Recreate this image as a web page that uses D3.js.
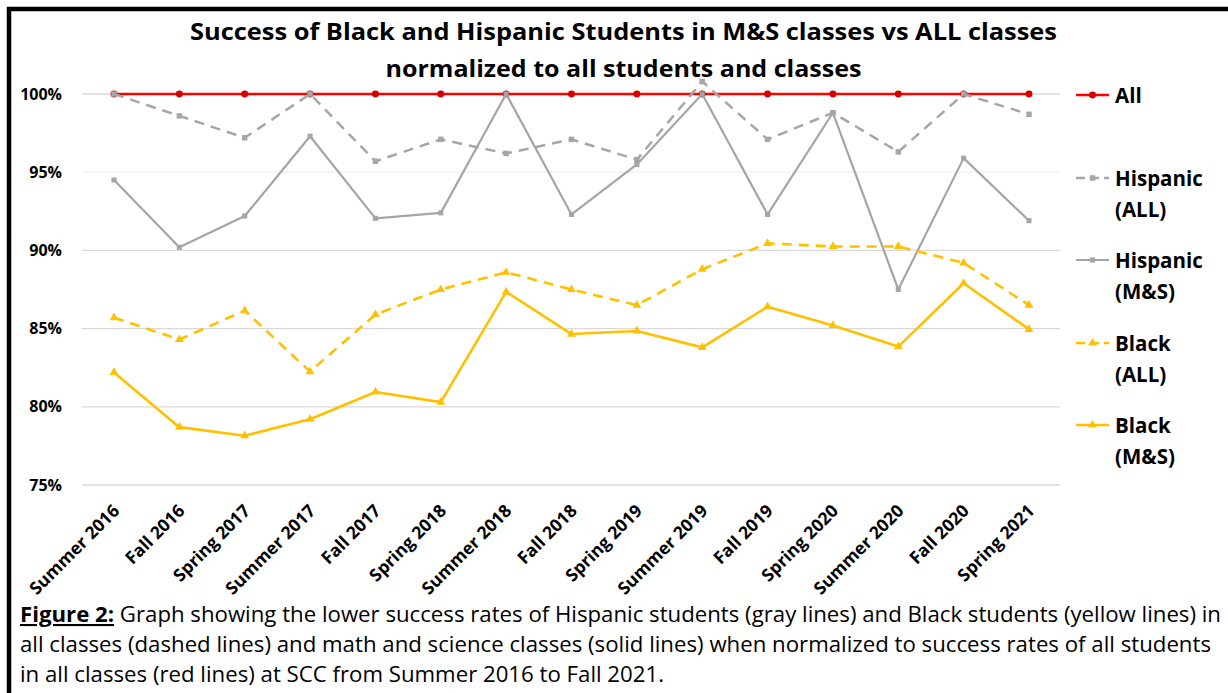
<!DOCTYPE html>
<html>
<head>
<meta charset="utf-8">
<script src="https://cdn.jsdelivr.net/npm/d3@7"></script>
<style>
  html, body { margin: 0; padding: 0; background: #fff; }
  svg { display: block; }
  text { font-family: "Open Sans", "DejaVu Sans", sans-serif; fill: #000; }
</style>
</head>
<body>
<svg id="chart" width="1228" height="693"></svg>
<script>
// Terms, from Summer 2016 to Spring 2021
const categories = ["Summer 2016", "Fall 2016", "Spring 2017", "Summer 2017", "Fall 2017",
  "Spring 2018", "Summer 2018", "Fall 2018", "Spring 2019", "Summer 2019",
  "Fall 2019", "Spring 2020", "Summer 2020", "Fall 2020", "Spring 2021"];

// Success rates normalized to all students in all classes (%)
const allStudents = [100, 100, 100, 100, 100, 100, 100, 100, 100, 100, 100, 100, 100, 100, 100];
const hispanicAll = [100, 98.6, 97.2, 100, 95.7, 97.1, 96.2, 97.1, 95.8, 100.8, 97.1, 98.8, 96.3, 100, 98.7];
const hispanicMS  = [94.5, 90.2, 92.2, 97.3, 92.05, 92.4, 100, 92.3, 95.5, 100, 92.3, 98.8, 87.5, 95.9, 91.9];
const blackAll    = [85.7, 84.3, 86.15, 82.25, 85.9, 87.5, 88.6, 87.5, 86.5, 88.8, 90.45, 90.25, 90.25, 89.2, 86.5];
const blackMS     = [82.2, 78.7, 78.15, 79.2, 80.95, 80.3, 87.35, 84.65, 84.85, 83.8, 86.4, 85.2, 83.85, 87.9, 84.95];

const yTicks = [75, 80, 85, 90, 95, 100];

const titleLines = [
  "Success of Black and Hispanic Students in M&S classes vs ALL classes",
  "normalized to all students and classes"
];
const captionLead = "Figure 2:";
const captionLines = [
  " Graph showing the lower success rates of Hispanic students (gray lines) and Black students (yellow lines) in",
  "all classes (dashed lines) and math and science classes (solid lines) when normalized to success rates of all students",
  "in all classes (red lines) at SCC from Summer 2016 to Fall 2021."
];

const series = [
  { name: ["All"], values: allStudents, color: "#ff0000", marker: "#d40000", dash: null, width: 2.5, shape: d3.symbolCircle, msize: 38 },
  { name: ["Hispanic", "(ALL)"], values: hispanicAll, color: "#a6a6a6", marker: "#a6a6a6", dash: "10,7", width: 2.5, shape: d3.symbolSquare, msize: 30 },
  { name: ["Hispanic", "(M&S)"], values: hispanicMS, color: "#a5a5a5", marker: "#a5a5a5", dash: null, width: 2.2, shape: d3.symbolSquare, msize: 26 },
  { name: ["Black", "(ALL)"], values: blackAll, color: "#ffc000", marker: "#ffc000", dash: "10,7", width: 2.6, shape: d3.symbolTriangle, msize: 34 },
  { name: ["Black", "(M&S)"], values: blackMS, color: "#ffc000", marker: "#ffc000", dash: null, width: 2.6, shape: d3.symbolTriangle, msize: 34 }
];

const svg = d3.select("#chart");

// Frame around the figure
svg.append("line").attr("x1", 9).attr("y1", 7).attr("x2", 9).attr("y2", 693)
  .attr("stroke", "#000").attr("stroke-width", 4.5);
svg.append("line").attr("x1", 7).attr("y1", 9).attr("x2", 1228).attr("y2", 9)
  .attr("stroke", "#000").attr("stroke-width", 4.5);

// Scales
const x = d3.scalePoint().domain(categories).range([114, 1029]);
const y = d3.scaleLinear().domain([75, 100]).range([485, 94]);

// Gridlines
const grid = svg.append("g");
grid.selectAll("line").data(yTicks).join("line")
  .attr("x1", 82).attr("x2", 1060)
  .attr("y1", d => y(d)).attr("y2", d => y(d))
  .attr("stroke", d => d === 95 ? "#f0f0f0" : "#d9d9d9")
  .attr("stroke-width", 1.3);

// Y axis labels
const yAxis = svg.append("g").attr("transform", "translate(62,0)")
  .call(d3.axisLeft(y).tickValues(yTicks).tickFormat(d => d + "%").tickSize(0).tickPadding(0));
yAxis.select(".domain").remove();
yAxis.selectAll("text")
  .style("font-family", "'Open Sans', sans-serif")
  .style("font-size", "16px").style("font-weight", "700").attr("fill", "#000");

// X axis labels, rotated
const xAxis = svg.append("g").attr("transform", "translate(0,485)")
  .call(d3.axisBottom(x).tickSize(0).tickPadding(0));
xAxis.select(".domain").remove();
xAxis.selectAll("text")
  .style("font-family", "'Open Sans', sans-serif")
  .style("font-size", "17.5px").style("font-weight", "700").attr("fill", "#000")
  .attr("text-anchor", "end").attr("dy", 0).attr("y", 0)
  .attr("transform", "translate(6,27) rotate(-45)");

// Lines and markers
const line = d3.line().x((d, i) => x(categories[i])).y(d => y(d));
series.forEach(s => {
  const g = svg.append("g");
  g.append("path").datum(s.values)
    .attr("d", line)
    .attr("fill", "none")
    .attr("stroke", s.color)
    .attr("stroke-width", s.width)
    .attr("stroke-dasharray", s.dash)
    .attr("stroke-linejoin", "round");
  g.selectAll("path.mk").data(s.values).join("path")
    .attr("class", "mk")
    .attr("d", d3.symbol().type(s.shape).size(s.msize))
    .attr("transform", (d, i) => `translate(${x(categories[i])},${y(d)})`)
    .attr("fill", s.marker);
});

// Legend
const legendRows = [95, 178, 260, 343, 425];
series.forEach((s, i) => {
  const ly = legendRows[i];
  const g = svg.append("g");
  g.append("line").attr("x1", 1076).attr("x2", 1109).attr("y1", ly).attr("y2", ly)
    .attr("stroke", s.color).attr("stroke-width", s.width)
    .attr("stroke-dasharray", s.dash ? "9,5" : null);
  g.append("path").attr("d", d3.symbol().type(s.shape).size(s.msize))
    .attr("transform", `translate(1092.5,${ly})`).attr("fill", s.marker);
  s.name.forEach((t, j) => {
    g.append("text").attr("x", 1115)
      .attr("y", ly + (s.name.length === 1 ? 8 : 8 + j * 31))
      .style("font-size", "20.5px").style("font-weight", "700").text(t);
  });
});

// Title
const titleWidths = [867, 476];
titleLines.forEach((t, i) => {
  svg.append("text").attr("x", 623.5).attr("y", i === 0 ? 40 : 77)
    .attr("text-anchor", "middle")
    .attr("textLength", titleWidths[i]).attr("lengthAdjust", "spacingAndGlyphs")
    .style("font-size", "23px").style("font-weight", "700").text(t);
});

// Caption
const captionWidths = [1201, 1191, 644];
const captionBase = [622, 652, 682];
captionLines.forEach((t, i) => {
  const txt = svg.append("text").attr("x", 20).attr("y", captionBase[i])
    .attr("textLength", captionWidths[i]).attr("lengthAdjust", "spacingAndGlyphs")
    .style("font-size", "21px");
  if (i === 0) {
    txt.append("tspan").style("font-weight", "700")
      .style("text-decoration", "underline").text(captionLead);
  }
  txt.append("tspan").text(t);
});
</script>
</body>
</html>
